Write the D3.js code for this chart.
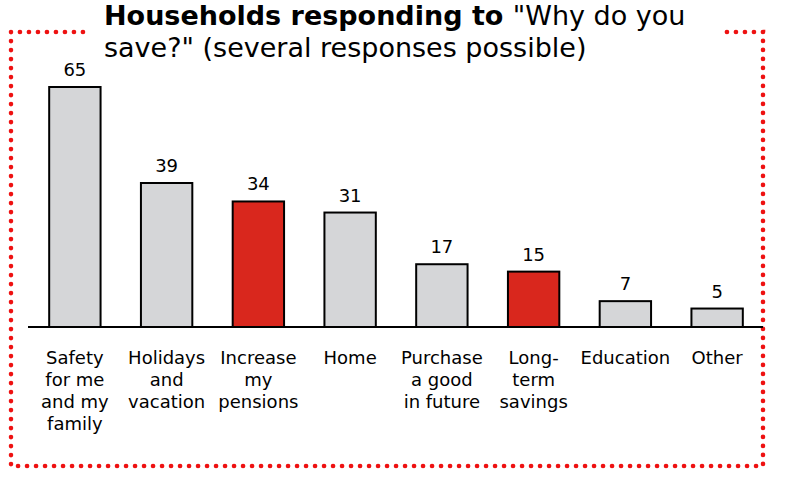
<!DOCTYPE html>
<html>
<head>
<meta charset="utf-8">
<script src="https://cdn.jsdelivr.net/npm/d3@7"></script>
<style>
  html, body { margin: 0; padding: 0; background: #fff; }
  svg { display: block; }
</style>
</head>
<body>
<svg id="chart" width="790" height="485"></svg>
<script>
const categories = [
  "Safety\nfor me\nand my\nfamily",
  "Holidays\nand\nvacation",
  "Increase\nmy\npensions",
  "Home",
  "Purchase\na good\nin future",
  "Long-\nterm\nsavings",
  "Education",
  "Other"
];
const values = [65, 39, 34, 31, 17, 15, 7, 5];
const highlighted = [false, false, true, false, false, true, false, false];
const titleBold = "Households responding to ";
const titleRest1 = "\"Why do you";
const titleLine2 = "save?\" (several responses possible)";

const svg = d3.select("#chart");
const font = "Verdana, 'DejaVu Sans', sans-serif";

const baseY = 327;
const x = d3.scaleBand().domain(d3.range(categories.length)).range([29, 763]).paddingInner(0.44).paddingOuter(0.22);
const y = d3.scaleLinear().domain([0, 65]).range([baseY, 87]);

// dotted frame
const frame = svg.append("g").attr("fill", "none").attr("stroke", "#ee1111")
  .attr("stroke-width", 4.6).attr("stroke-linecap", "round").attr("stroke-dasharray", "0.1 8.9");
frame.append("path").attr("d", "M83,32 L11,32 L11,466 L763,466 L763,32 L725,32");

// title
const t1 = svg.append("text").attr("x", 104).attr("y", 25)
  .attr("font-family", font).attr("font-size", 27).attr("fill", "#000");
t1.append("tspan").attr("font-weight", "bold").text(titleBold);
t1.append("tspan").text(titleRest1);
svg.append("text").attr("x", 104).attr("y", 57)
  .attr("font-family", font).attr("font-size", 27).attr("fill", "#000").text(titleLine2);

// bars
svg.append("g").selectAll("rect").data(values).join("rect")
  .attr("x", (d, i) => x(i))
  .attr("y", d => y(d))
  .attr("width", x.bandwidth())
  .attr("height", d => baseY - y(d))
  .attr("fill", (d, i) => highlighted[i] ? "#d9271d" : "#d5d6d8")
  .attr("stroke", "#000").attr("stroke-width", 2);

// value labels
svg.append("g").selectAll("text").data(values).join("text")
  .attr("x", (d, i) => x(i) + x.bandwidth() / 2)
  .attr("y", d => y(d) - 11)
  .attr("text-anchor", "middle")
  .attr("font-family", font).attr("font-size", 18).attr("fill", "#000")
  .text(d => d);

// axis
const axis = d3.axisBottom(x).tickSize(0).tickFormat("");
const ax = svg.append("g").attr("transform", `translate(0,${baseY})`).call(axis);
ax.select(".domain").attr("stroke", "#000").attr("stroke-width", 2).attr("d", "M28,0H763");

// category labels
const lab = svg.append("g").selectAll("text").data(categories).join("text")
  .attr("x", (d, i) => x(i) + x.bandwidth() / 2)
  .attr("y", 364)
  .attr("text-anchor", "middle")
  .attr("font-family", font).attr("font-size", 18).attr("fill", "#000");
lab.each(function(d) {
  const el = d3.select(this);
  d.split("\n").forEach((line, k) => {
    el.append("tspan").attr("x", el.attr("x")).attr("dy", k === 0 ? 0 : 22).text(line);
  });
});
</script>
</body>
</html>
